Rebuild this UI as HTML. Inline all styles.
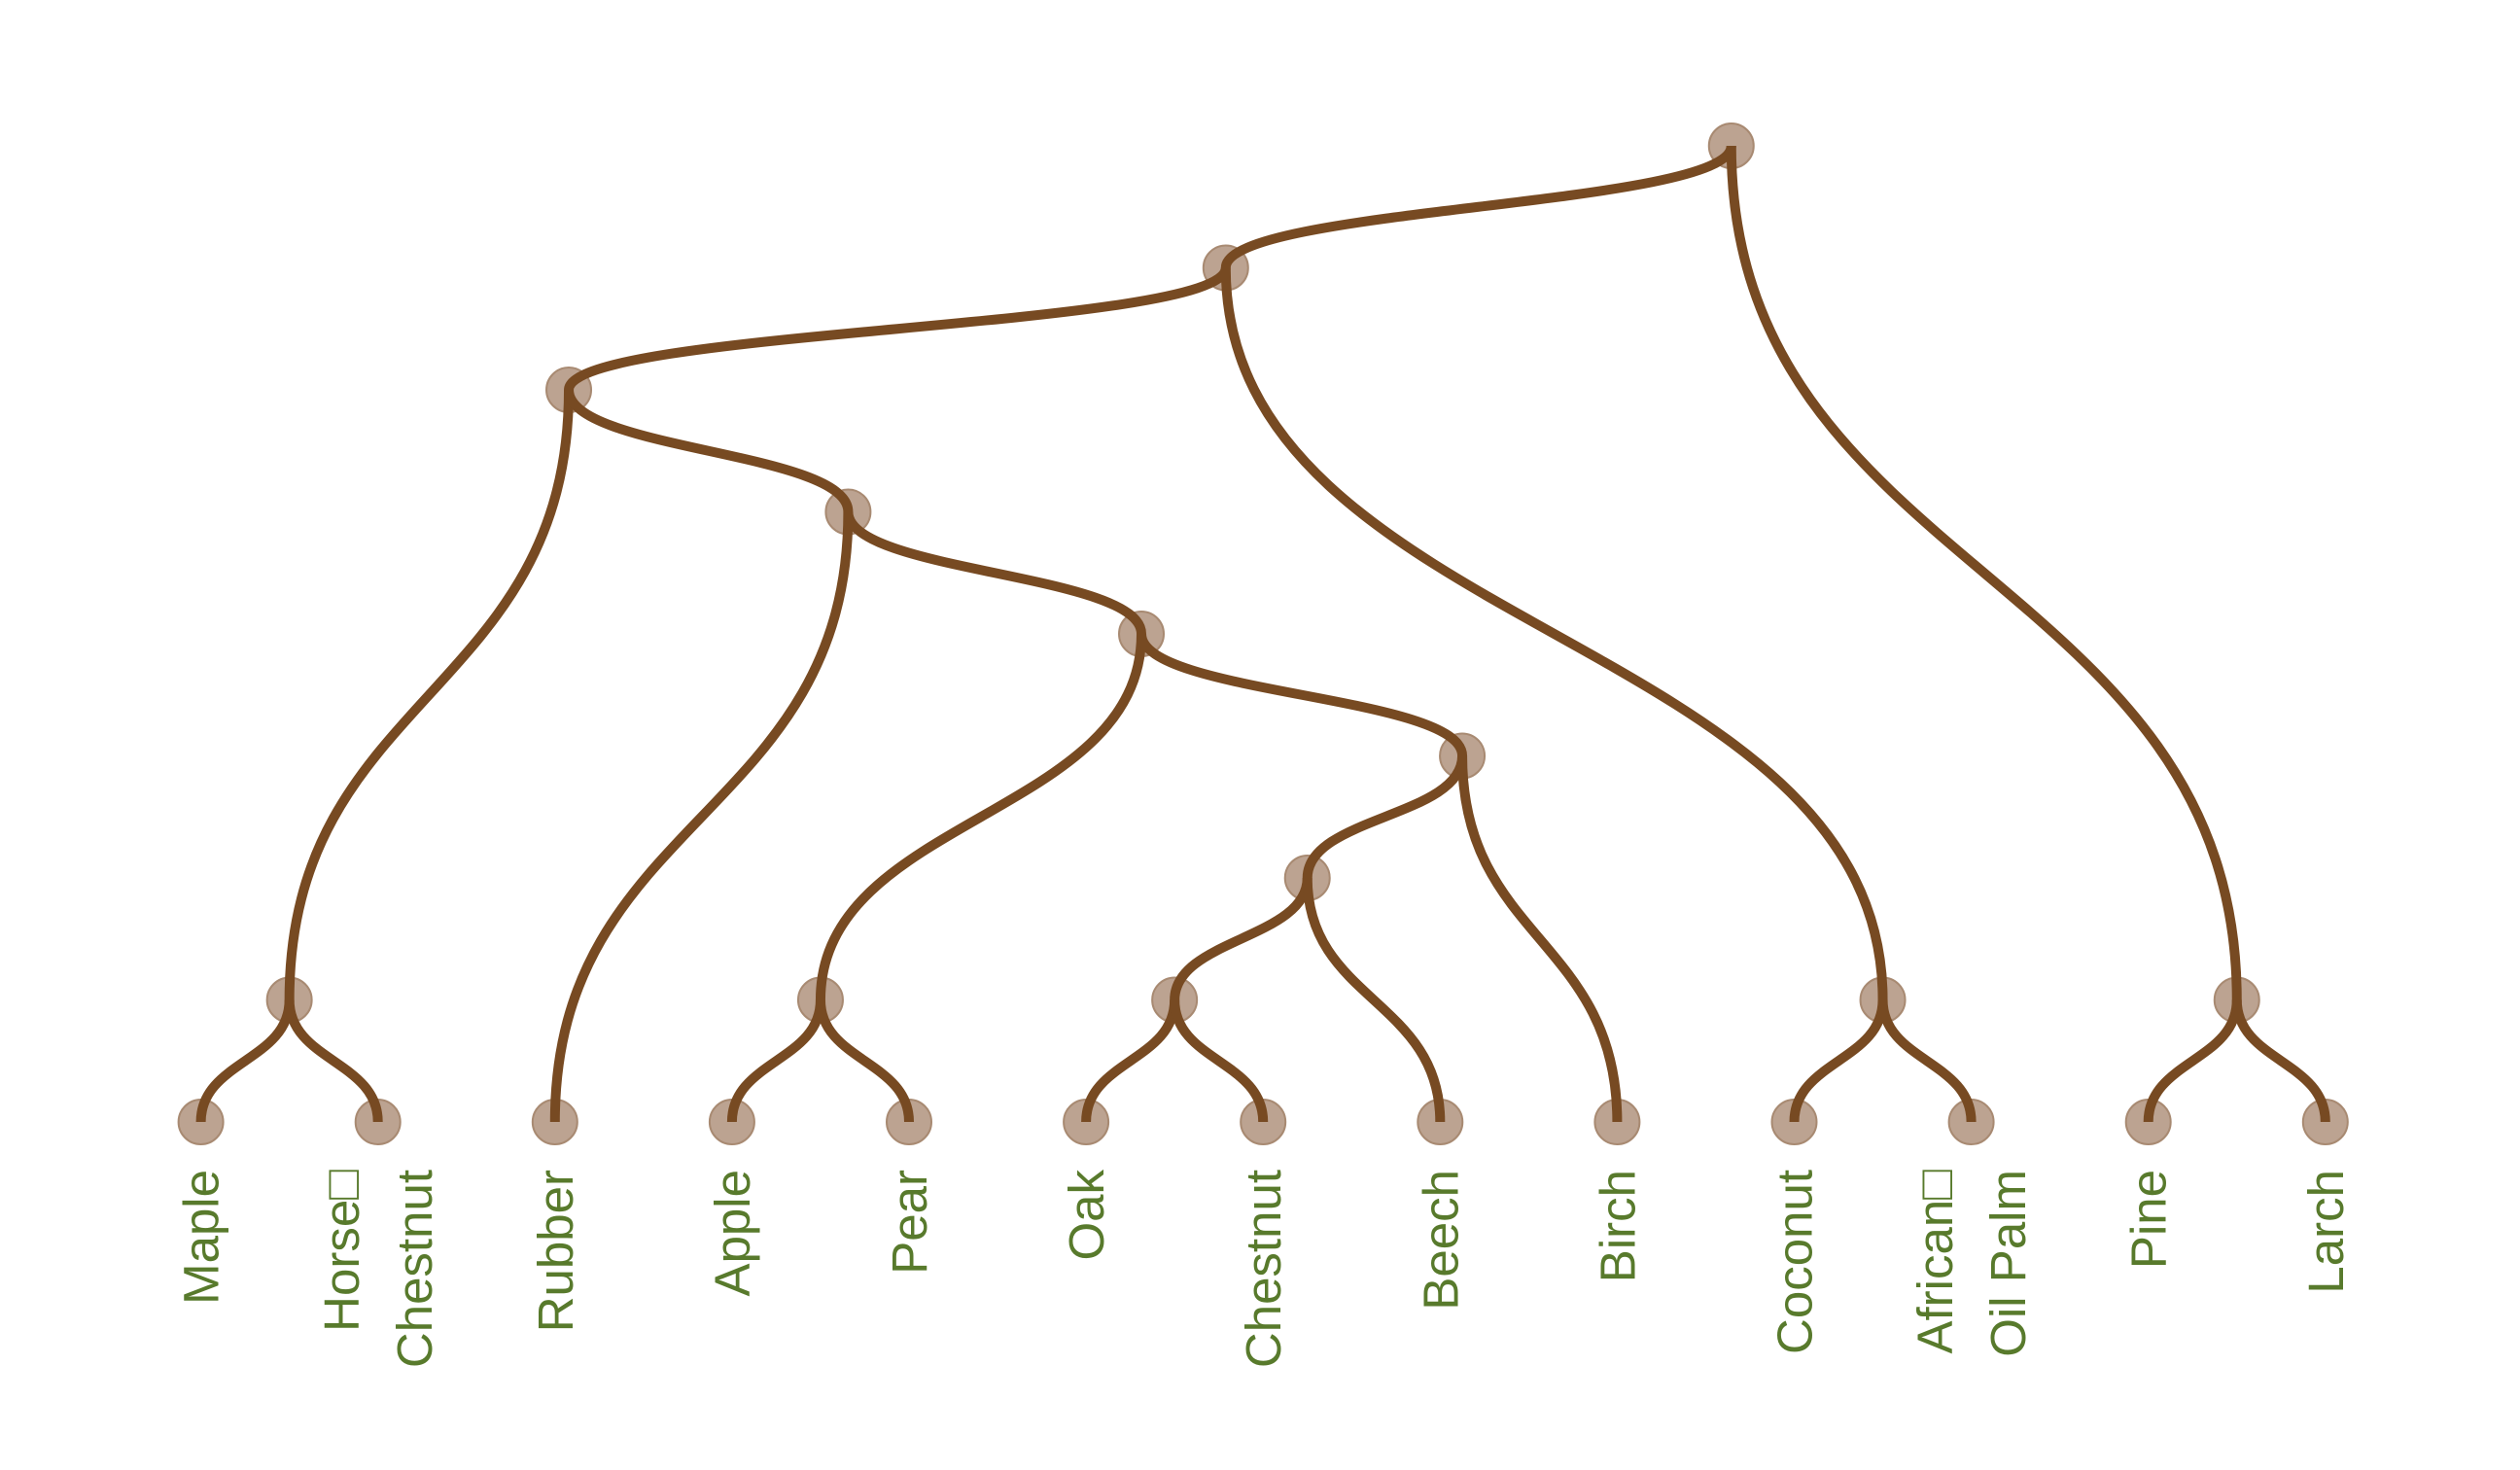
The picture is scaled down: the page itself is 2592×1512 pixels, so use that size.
<!DOCTYPE html>
<html><head><meta charset="utf-8"><style>
html,body{margin:0;padding:0;background:#fff;}
svg{display:block;}
text{font-family:"Liberation Sans",sans-serif;font-size:51px;fill:#587a2c;}
</style></head><body>
<svg id="chart" width="2592" height="1512" viewBox="0 0 2592 1512" xmlns="http://www.w3.org/2000/svg">
<g id="nodes"></g>
<g id="links"></g>
<g id="labels"></g>
</svg>
<script>
const leafNames = ["Maple","Horse\u25A1\nChestnut","Rubber","Apple","Pear","Oak","Chestnut","Beech","Birch","Coconut","African\u25A1\nOil Palm","Pine","Larch"];
// tree structure: leaf indices nested
const treeStructure = [[[[0,1],[2,[[3,4],[[[5,6],7],8]]]],[9,10]],[11,12]];

const NS="http://www.w3.org/2000/svg";
const x0=206.6, dx=182.1, yLeaf=1154, dy=125.5;
const xScale=i=>x0+i*dx;
const yScale=h=>yLeaf-h*dy;

const links=[], nodes=[];
function layout(n){
  if(typeof n==="number"){const o={x:xScale(n),h:0,leaf:n};nodes.push(o);return o;}
  const kids=n.map(layout);
  const o={x:kids.reduce((s,k)=>s+k.x,0)/kids.length,h:Math.max(...kids.map(k=>k.h))+1};
  kids.forEach(k=>links.push([o,k]));
  nodes.push(o);return o;
}
layout(treeStructure);

const gN=document.getElementById('nodes');
nodes.forEach(n=>{
  const c=document.createElementNS(NS,'circle');
  c.setAttribute('cx',n.x);c.setAttribute('cy',yScale(n.h));c.setAttribute('r',23);
  c.setAttribute('fill','#bca391');c.setAttribute('stroke','#a88a72');c.setAttribute('stroke-width','2');
  
  
  gN.appendChild(c);
});
const gL=document.getElementById('links');
links.forEach(([p,c])=>{
  const px=p.x,py=yScale(p.h),cx=c.x,cy=yScale(c.h),my=(py+cy)/2;
  const path=document.createElementNS(NS,'path');
  path.setAttribute('d',`M${px},${py}C${px},${my} ${cx},${my} ${cx},${cy}`);
  path.setAttribute('fill','none');path.setAttribute('stroke','#774a22');path.setAttribute('stroke-width','10');
  
  
  gL.appendChild(path);
});
const gT=document.getElementById('labels');
leafNames.forEach((name,i)=>{
  const lines=name.split('\n');
  const t=document.createElementNS(NS,'text');
  const x=xScale(i);
  t.setAttribute('transform',`translate(${x},1203) rotate(-90)`);
  t.setAttribute('text-anchor','end');
  
  
  const start=18-(lines.length-1)*37.5;
  lines.forEach((ln,j)=>{
    const s=document.createElementNS(NS,'tspan');
    s.setAttribute('x',0);s.setAttribute('y',start+j*75);
    s.textContent=ln;t.appendChild(s);
  });
  gT.appendChild(t);
});
</script>
</body></html>
